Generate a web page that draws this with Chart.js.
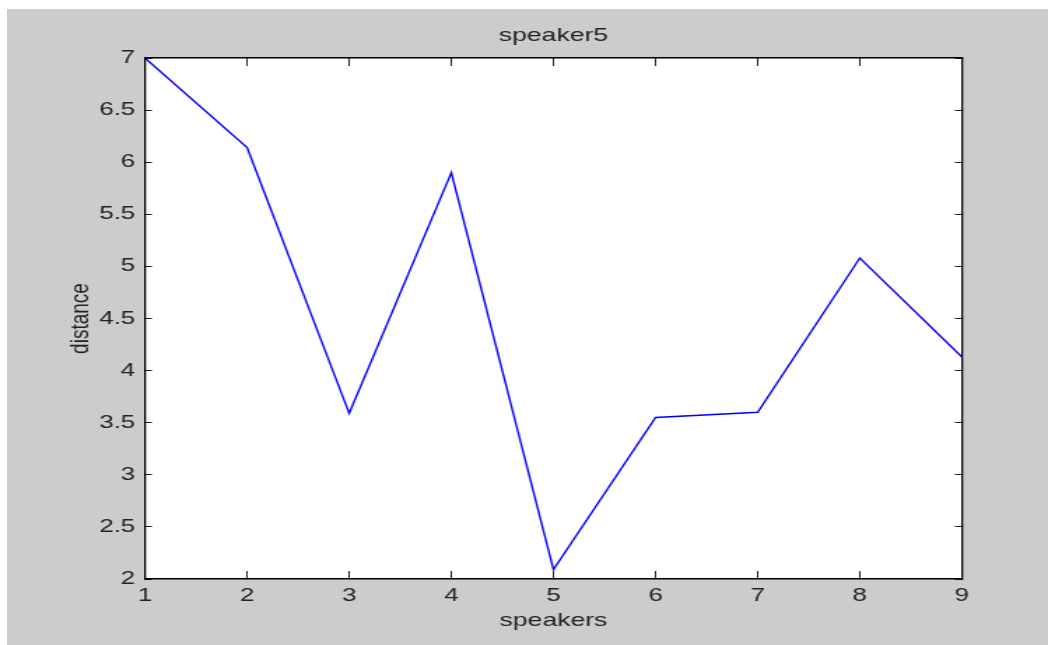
<!DOCTYPE html>
<html>
<head>
<meta charset="utf-8">
<script src="https://cdn.jsdelivr.net/npm/chart.js@4/dist/chart.umd.min.js"></script>
<style>
  html, body { margin: 0; padding: 0; background: #cccccc; }
  body { width: 1048px; height: 645px; position: relative; overflow: hidden; }
  /* thin white margins at the top and left of the screenshot */
  #whiteTop { position: absolute; left: 0; top: 0; width: 1048px; height: 9px; background: #ffffff; }
  #whiteLeft { position: absolute; left: 0; top: 0; width: 7px; height: 645px; background: #ffffff; }
  #frame { position: absolute; left: 7px; top: 9px; width: 1041px; height: 636px; background: #cccccc; }
</style>
</head>
<body>
<div id="whiteTop"></div>
<div id="whiteLeft"></div>
<div id="frame">
  <!-- the original figure is stretched sideways, so the canvas is drawn narrow and scaled up -->
  <canvas id="chart" width="744" height="636" style="display:block;width:1041px;height:636px"></canvas>
</div>
<script>
const speakers = [1, 2, 3, 4, 5, 6, 7, 8, 9];
const distance = [7.0, 6.14, 3.59, 5.9, 2.09, 3.55, 3.6, 5.08, 4.13];
const chartTitle = "speaker5";
const xLabel = "speakers";
const yLabel = "distance";

const FONT = "'Liberation Sans', Arial, sans-serif";
const INK = "#222222";

// white plot box behind the line
const plotBackground = {
  id: "plotBackground",
  beforeDraw(chart) {
    const { ctx, chartArea } = chart;
    ctx.save();
    ctx.fillStyle = "#ffffff";
    ctx.fillRect(chartArea.left, chartArea.top, chartArea.right - chartArea.left, chartArea.bottom - chartArea.top);
    ctx.restore();
  },
};

const fixSize = (size) => (scale) => {
  if (scale.isHorizontal()) scale.height = size;
  else scale.width = size;
};

const tickFont = { family: FONT, size: 18.5 };
const titleFont = { family: FONT, size: 19 };

new Chart(document.getElementById("chart"), {
  type: "line",
  data: {
    datasets: [
      {
        label: yLabel,
        data: speakers.map((s, i) => ({ x: s, y: distance[i] })),
        borderColor: "#0000ff",
        borderWidth: 1.4,
        pointRadius: 0,
        tension: 0,
        fill: false,
        xAxisID: "x",
        yAxisID: "y",
      },
    ],
  },
  options: {
    responsive: false,
    animation: false,
    layout: { padding: 0 },
    plugins: {
      legend: { display: false },
      tooltip: { enabled: false },
      title: { display: false },
    },
    scales: {
      x: {
        type: "linear",
        position: "bottom",
        min: 1,
        max: 9,
        afterFit: fixSize(66),
        ticks: { stepSize: 1, autoSkip: false, maxRotation: 0, padding: 14, color: INK, font: tickFont },
        grid: { drawOnChartArea: false, tickLength: -8, color: INK, lineWidth: 1 },
        border: { display: true, color: "#000000", width: 1.5 },
        title: { display: true, text: xLabel, color: INK, font: titleFont, padding: { top: 0, bottom: 13 } },
      },
      x2: {
        type: "linear",
        position: "top",
        min: 1,
        max: 9,
        afterFit: fixSize(49),
        ticks: { stepSize: 1, display: false },
        grid: { drawOnChartArea: false, tickLength: -8, color: INK, lineWidth: 1 },
        border: { display: true, color: "#000000", width: 1.5 },
        title: { display: true, text: chartTitle, color: INK, font: titleFont, padding: { top: 15, bottom: 0 } },
      },
      y: {
        type: "linear",
        position: "left",
        min: 2,
        max: 7,
        afterFit: fixSize(98.6),
        ticks: { stepSize: 0.5, autoSkip: false, padding: 12, color: INK, font: tickFont, callback: (v) => String(v) },
        grid: { drawOnChartArea: false, tickLength: -5, color: INK, lineWidth: 1 },
        border: { display: true, color: "#000000", width: 1.3 },
        title: { display: true, text: yLabel, color: INK, font: titleFont, padding: { top: 41, bottom: 0 } },
      },
      y2: {
        type: "linear",
        position: "right",
        min: 2,
        max: 7,
        afterFit: fixSize(61.5),
        ticks: { stepSize: 0.5, display: false },
        grid: { drawOnChartArea: false, tickLength: -5, color: INK, lineWidth: 1 },
        border: { display: true, color: "#000000", width: 1.3 },
      },
    },
  },
  plugins: [plotBackground],
});
</script>
</body>
</html>
